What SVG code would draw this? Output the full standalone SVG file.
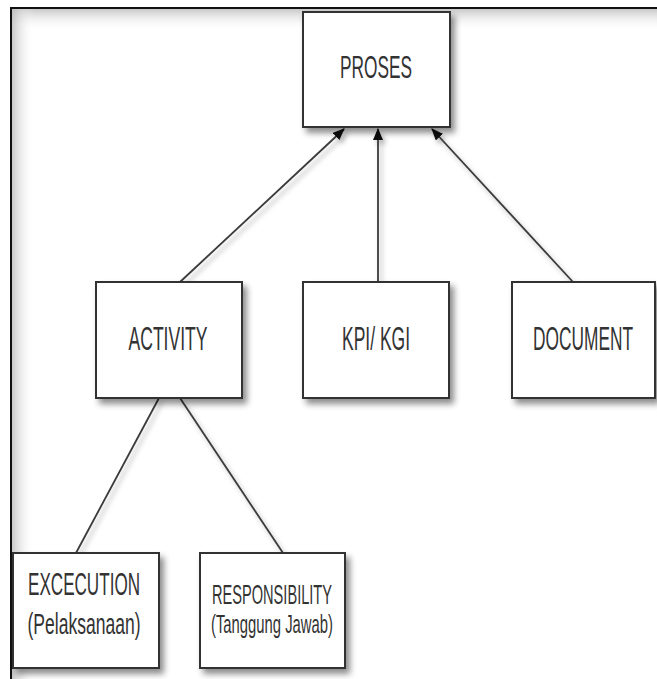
<svg xmlns="http://www.w3.org/2000/svg" width="657" height="679" viewBox="0 0 657 679">
<style>
.box{fill:#fff;stroke:#333;stroke-width:2;filter:url(#sh)}
.lbl{font-family:"Liberation Sans",Arial,sans-serif;fill:#333;text-anchor:middle}
.con{stroke:#3a3a3a;stroke-width:1.8;fill:none;filter:url(#lsh)}
</style>
<defs>
<filter id="sh" x="-20%" y="-20%" width="140%" height="150%">
<feDropShadow dx="4" dy="5" stdDeviation="3" flood-color="#000" flood-opacity="0.45"/>
</filter>
<filter id="lsh" filterUnits="userSpaceOnUse" x="0" y="0" width="657" height="679">
<feDropShadow dx="3" dy="4" stdDeviation="2.5" flood-color="#000" flood-opacity="0.3"/>
</filter>
<linearGradient id="gt" x1="0" y1="0" x2="0" y2="1">
<stop offset="0" stop-color="#bbb" stop-opacity="0.8"/>
<stop offset="1" stop-color="#fff" stop-opacity="0"/>
</linearGradient>
<linearGradient id="gl" x1="0" y1="0" x2="1" y2="0">
<stop offset="0" stop-color="#bbb" stop-opacity="0.8"/>
<stop offset="1" stop-color="#fff" stop-opacity="0"/>
</linearGradient>
<marker id="ah" viewBox="0 0 12 10" refX="11" refY="5" markerWidth="12" markerHeight="10" markerUnits="userSpaceOnUse" orient="auto">
<path d="M0,0 L12,5 L0,10 Z" fill="#111"/>
</marker>
</defs>
<rect x="0" y="0" width="657" height="679" fill="#fff"/>
<g id="frame">
<rect x="12" y="9" width="645" height="22" fill="url(#gt)"/>
<rect x="12" y="9" width="22" height="670" fill="url(#gl)"/>
<path d="M11,679 V8 H657" fill="none" stroke="#111" stroke-width="2"/>
</g>
<g id="connectors">
<line class="con" x1="180" y1="282" x2="344" y2="129" marker-end="url(#ah)"/>
<line class="con" x1="378" y1="282" x2="378" y2="129" marker-end="url(#ah)"/>
<line class="con" x1="573" y1="282" x2="432" y2="129" marker-end="url(#ah)"/>
<line class="con" x1="159" y1="398" x2="76" y2="553"/>
<line class="con" x1="180" y1="398" x2="283" y2="553"/>
</g>
<g id="proses">
<rect class="box" x="303" y="12" width="147" height="115"/>
<text class="lbl" x="376" y="78" font-size="32" textLength="72" lengthAdjust="spacingAndGlyphs">PROSES</text>
</g>
<g id="activity">
<rect class="box" x="96" y="282" width="146" height="116"/>
<text class="lbl" x="168" y="350" font-size="33" textLength="79" lengthAdjust="spacingAndGlyphs">ACTIVITY</text>
</g>
<g id="kpi">
<rect class="box" x="303" y="282" width="146" height="116"/>
<text class="lbl" x="376" y="350" font-size="33" textLength="68" lengthAdjust="spacingAndGlyphs">KPI/ KGI</text>
</g>
<g id="document">
<rect class="box" x="512" y="282" width="143" height="116"/>
<text class="lbl" x="583" y="350" font-size="33" textLength="100" lengthAdjust="spacingAndGlyphs">DOCUMENT</text>
</g>
<g id="execution">
<rect class="box" x="13" y="553" width="146" height="115"/>
<text class="lbl" x="84" y="595" font-size="32" textLength="112" lengthAdjust="spacingAndGlyphs">EXCECUTION</text>
<text class="lbl" x="84" y="634" font-size="30" textLength="113" lengthAdjust="spacingAndGlyphs">(Pelaksanaan)</text>
</g>
<g id="responsibility">
<rect class="box" x="200" y="553" width="145" height="115"/>
<text class="lbl" x="272" y="604" font-size="28" textLength="120" lengthAdjust="spacingAndGlyphs">RESPONSIBILITY</text>
<text class="lbl" x="272" y="633" font-size="26" textLength="122" lengthAdjust="spacingAndGlyphs">(Tanggung Jawab)</text>
</g>
</svg>
